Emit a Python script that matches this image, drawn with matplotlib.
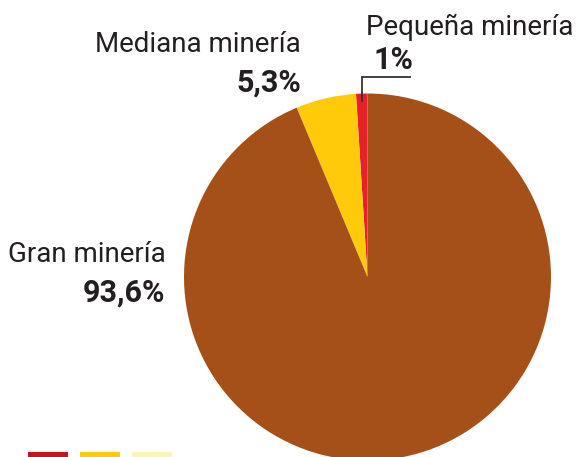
"""
Producción por tipo de minería: pie chart with side labels.
"""
import numpy as np
import matplotlib.pyplot as plt
from matplotlib.patches import Rectangle

W, H = 576, 457

segments = ["Pequeña minería", "Mediana minería", "Gran minería"]
shares = [1.0, 5.3, 93.6]
share_labels = ["1%", "5,3%", "93,6%"]
pie_colors = ["#E8202A", "#FFCA0A", "#A55018"]
legend_colors = ["#C8141C", "#FFCA08", "#FAF5AF"]

plt.rcParams["font.family"] = ["Roboto", "DejaVu Sans"]

fig = plt.figure(figsize=(W / 100, H / 100), dpi=100)
ax = fig.add_axes([0, 0, 1, 1])

cx, cy, r = 367.5, H - 277, 183.5
wedges, _ = ax.pie(shares, colors=pie_colors, startangle=90, counterclock=True,
                   center=(cx, cy), radius=r, frame=True,
                   wedgeprops=dict(linewidth=0))
ax.set_xlim(0, W)
ax.set_ylim(0, H)
ax.set_aspect("equal")
ax.axis("off")

name_kw = dict(fontsize=20, color="#231F20", fontweight="normal")
pct_kw = dict(fontsize=22, color="#231F20", fontweight="bold")

# Pequeña minería: leader line out of the thin red wedge
w = wedges[0]
mid = np.deg2rad((w.theta1 + w.theta2) / 2)
lx = cx + r * np.cos(mid) * 0.99
ly0 = cy + r * np.sin(mid) * 0.96
ax.plot([lx, lx, lx + 48], [ly0, H - 77, H - 77], color="#333333", lw=1.3,
        solid_joinstyle="miter")
ax.text(366, H - 35, segments[0], ha="left", va="baseline", **name_kw)
ax.text(374, H - 69, share_labels[0], ha="left", va="baseline", **pct_kw)

# Mediana minería
ax.text(301, H - 52, segments[1], ha="right", va="baseline", **name_kw)
ax.text(301, H - 92, share_labels[1], ha="right", va="baseline", **pct_kw)

# Gran minería
ax.text(166, H - 262, segments[2], ha="right", va="baseline", **name_kw)
ax.text(165, H - 302, share_labels[2], ha="right", va="baseline", **pct_kw)

# colour key strip along the bottom edge
for i, c in enumerate(legend_colors):
    ax.add_patch(Rectangle((28 + i * 52, 0), 40, 5.5, color=c, lw=0))

fig.savefig("out.png", dpi=100)
